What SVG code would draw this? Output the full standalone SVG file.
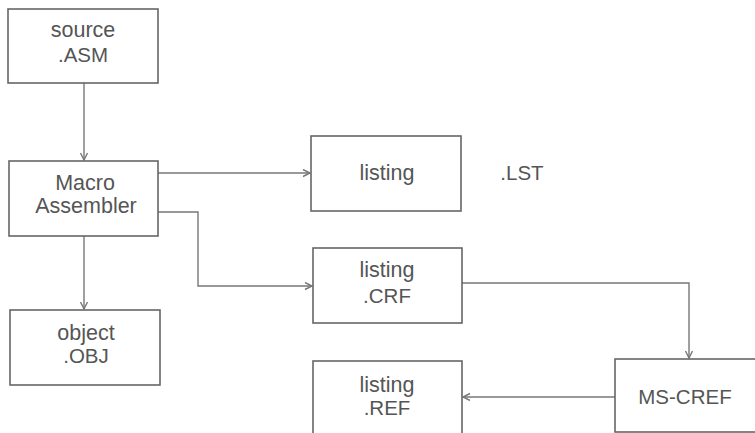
<svg xmlns="http://www.w3.org/2000/svg" width="755" height="433" viewBox="0 0 755 433">
<style>
.box{fill:#fff;stroke:#666;stroke-width:1.6}
.t{font-family:"Liberation Sans",Arial,sans-serif;font-size:21.5px;fill:#555;text-anchor:middle}
.u{font-size:20.5px}
.c{fill:none;stroke:#777;stroke-width:1.4;marker-end:url(#ah)}
</style>
<defs>
<marker id="ah" markerWidth="10" markerHeight="10" refX="8" refY="4" orient="auto" markerUnits="userSpaceOnUse">
<path d="M1,0.5 L8,4 L1,7.5" fill="none" stroke="#777" stroke-width="1.4"/>
</marker>
</defs>
<rect width="755" height="433" fill="#fff"/>
<g id="connectors">
<path class="c" d="M84,83 V160"/>
<path class="c" d="M158,173 H310"/>
<path class="c" d="M158,212 H198 V286 H312"/>
<path class="c" d="M84,236 V309"/>
<path class="c" d="M462,283 H689 V358"/>
<path class="c" d="M615,397 H463"/>
</g>
<g id="source"><rect class="box" x="8" y="9" width="150" height="74"/><text class="t" x="83" y="37">source</text><text class="t u" x="83" y="62">.ASM</text></g>
<g id="macro"><rect class="box" x="9" y="161" width="149" height="75"/><text class="t" x="85" y="190">Macro</text><text class="t" x="86" y="213">Assembler</text></g>
<g id="listing-lst"><rect class="box" x="311" y="136" width="150" height="75"/><text class="t" x="387" y="180">listing</text></g>
<g id="lst-label"><text class="t u" x="522" y="180">.LST</text></g>
<g id="object"><rect class="box" x="10" y="310" width="150" height="75"/><text class="t" x="86" y="340">object</text><text class="t u" x="86" y="363">.OBJ</text></g>
<g id="listing-crf"><rect class="box" x="313" y="248" width="149" height="75"/><text class="t" x="387" y="277">listing</text><text class="t u" x="387" y="303">.CRF</text></g>
<g id="ms-cref"><rect class="box" x="615" y="359" width="150" height="73"/><text class="t" x="685" y="404" style="font-size:20.5px">MS-CREF</text></g>
<g id="listing-ref"><rect class="box" x="313" y="361" width="149" height="80"/><text class="t" x="387" y="392">listing</text><text class="t u" x="387" y="415">.REF</text></g>
</svg>
